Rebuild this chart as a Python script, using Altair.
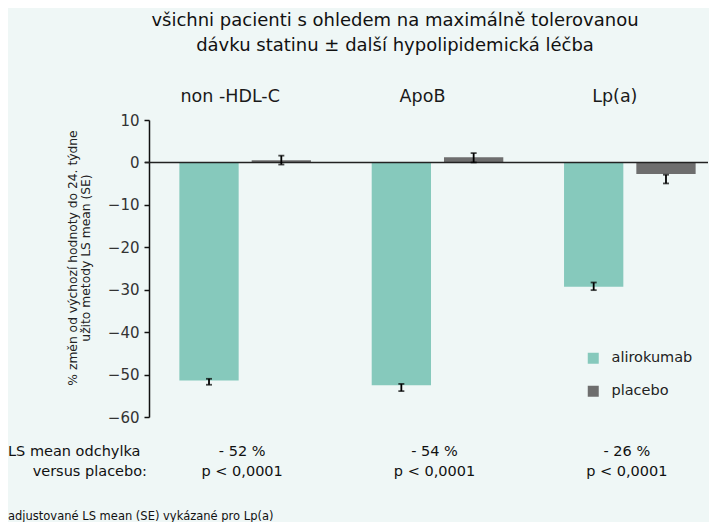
import altair as alt
import pandas as pd

groups = ["non -HDL-C", "ApoB", "Lp(a)"]
series = ["alirokumab", "placebo"]
ali_vals = [-51.4, -52.5, -29.3]
pla_vals = [0.5, 1.2, -2.7]
ali_lo = [-52.4, -53.9, -30.1]
ali_hi = [-51.0, -52.2, -28.3]
pla_lo = [-0.5, 0.0, -4.95]
pla_hi = [1.6, 2.2, -2.9]
diff_labels = ["- 52 %", "- 54 %", "- 26 %"]
p_labels = ["p < 0,0001", "p < 0,0001", "p < 0,0001"]
y_ticks = [10, 0, -10, -20, -30, -40, -50, -60]
colors = ["#86c9bc", "#6e6e6e"]

FONT = "DejaVu Sans"
BG = "#eff7f6"

rows = []
for i, g in enumerate(groups):
    rows.append({"group": g, "series": series[0], "value": ali_vals[i], "lo": ali_lo[i], "hi": ali_hi[i]})
    rows.append({"group": g, "series": series[1], "value": pla_vals[i], "lo": pla_lo[i], "hi": pla_hi[i]})
df = pd.DataFrame(rows)
ann = pd.DataFrame({"group": groups, "diff": diff_labels, "p": p_labels})

W = 559
H = 297

xscale = alt.Scale(domain=groups, range=[0, 577], paddingInner=0, paddingOuter=0)
xoff = alt.XOffset("series:N", sort=series, scale=alt.Scale(paddingInner=0.18, paddingOuter=0.42))
yscale = alt.Scale(domain=[-60, 10], nice=False, zero=False)
X = alt.X("group:N", sort=groups, scale=xscale, axis=None)

base = alt.Chart(df)

bars = base.mark_bar().encode(
    x=X,
    xOffset=xoff,
    y=alt.Y("value:Q", scale=yscale,
            axis=alt.Axis(values=y_ticks, title=None, grid=False, domainColor="#111",
                          domainWidth=1.5, tickColor="#111", tickWidth=1.5, tickSize=5,
                          labelFontSize=15, labelColor="#333", labelFont=FONT,
                          labelPadding=5)),
    color=alt.Color("series:N", sort=series, scale=alt.Scale(domain=series, range=colors),
                    legend=alt.Legend(title=None, orient="none", legendX=437, legendY=231,
                                      symbolType="square", symbolSize=121, symbolStrokeWidth=0,
                                      labelFontSize=14.5, labelFont=FONT, labelColor="#222",
                                      rowPadding=18, labelOffset=11)),
)

err = base.mark_rule(color="#000", strokeWidth=1.8).encode(
    x=X, xOffset=xoff, y=alt.Y("lo:Q", scale=yscale), y2="hi:Q",
)
cap_lo = base.mark_tick(color="#000", size=6, thickness=1.8).encode(
    x=X, xOffset=xoff, y=alt.Y("lo:Q", scale=yscale),
)
cap_hi = base.mark_tick(color="#000", size=6, thickness=1.8).encode(
    x=X, xOffset=xoff, y=alt.Y("hi:Q", scale=yscale),
)

zero = alt.Chart(pd.DataFrame({"v": [0]})).mark_rule(color="#222", strokeWidth=1.5).encode(
    y=alt.Y("v:Q", scale=yscale), x=alt.value(-4), x2=alt.value(W)
)

group_text = alt.Chart(ann).mark_text(fontSize=17.5, font=FONT, color="#1a1a1a", dx=-15).encode(
    x=X, y=alt.value(-23), text="group:N"
)
diff_text = alt.Chart(ann).mark_text(fontSize=14.5, font=FONT, color="#111", dx=-3).encode(
    x=X, y=alt.value(332), text="diff:N"
)
p_text = alt.Chart(ann).mark_text(fontSize=14.5, font=FONT, color="#111", dx=-3).encode(
    x=X, y=alt.value(352), text="p:N"
)

def label(txt, x, y, size, align="left", angle=0, color="#111"):
    return alt.Chart(pd.DataFrame({"t": [txt]})).mark_text(
        fontSize=size, font=FONT, color=color, align=align, baseline="middle",
        angle=angle, lineHeight=13, lineBreak="\n"
    ).encode(x=alt.value(x), y=alt.value(y), text="t:N")

title1 = label("všichni pacienti s ohledem na maximálně tolerovanou", 246, -99.5, 18, align="center")
title2 = label("dávku statinu ± další hypolipidemická léčba", 246, -74, 18, align="center")
row1 = label("LS mean odchylka", -141, 332, 14.5)
row2 = label("versus placebo:", -2, 352, 14.5, align="right")
foot = label("adjustované LS mean (SE) vykázané pro Lp(a)", -141, 396.5, 11.5)
ytitle = label("% změn od výchozí hodnoty do 24. týdne\nužito metody LS mean (SE)", -76, 138, 12.3,
               align="center", angle=270, color="#222")

chart = alt.layer(
    bars, zero, err, cap_lo, cap_hi, group_text, diff_text, p_text,
    title1, title2, row1, row2, foot, ytitle
).properties(width=W, height=H, padding={"left": 0, "top": 3, "right": 0, "bottom": 0},
             background=BG).configure_view(stroke=None)

chart.save("out.html", embed_options={"renderer": "svg", "actions": False})
